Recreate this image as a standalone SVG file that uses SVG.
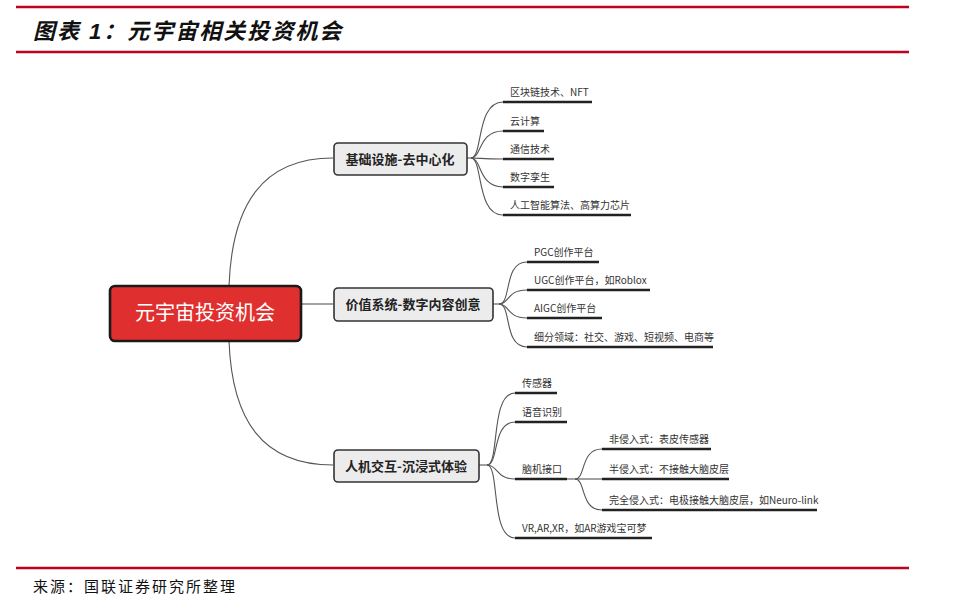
<svg xmlns="http://www.w3.org/2000/svg" width="960" height="609" viewBox="0 0 960 609">
<style>
.rule{stroke:#c0001f;stroke-width:2.5}
.title{font-family:"Liberation Sans","Noto Sans CJK SC",sans-serif;font-size:22px;font-weight:bold;font-style:italic;fill:#111;letter-spacing:2px}
.src{font-family:"Liberation Serif","Noto Sans CJK SC",serif;font-size:15px;fill:#111;letter-spacing:2px}
.conn{fill:none;stroke:#555;stroke-width:1.1}
.ul{stroke:#222;stroke-width:2.6}
.leaf{font-family:"Noto Sans CJK SC",sans-serif;font-size:10px;fill:#333}
.bbox{fill:#ececec;stroke:#333;stroke-width:1.6}
.btxt{font-family:"Noto Sans CJK SC",sans-serif;font-size:13px;font-weight:bold;fill:#222;text-anchor:middle}
.root{fill:#e02f2f;stroke:#1a1a1a;stroke-width:2.6}
.rtxt{font-family:"Noto Sans CJK SC",sans-serif;font-size:20px;fill:#fff;text-anchor:middle}
</style>
<rect width="960" height="609" fill="#fff"/>
<line class="rule" x1="16" y1="7" x2="909" y2="7"/>
<text class="title" x="33" y="39">图表 1：元宇宙相关投资机会</text>
<line class="rule" x1="16" y1="52" x2="909" y2="52"/>
<line class="rule" x1="16" y1="568" x2="909" y2="568"/>
<text class="src" x="33" y="592">来源：国联证券研究所整理</text>

<g id="connectors">
<path class="conn" d="M229 286 C232 205 262 158 333 158"/>
<path class="conn" d="M301 304 L333 304"/>
<path class="conn" d="M229 341 C232 420 262 465 333 465"/>
<!-- branch1 -->
<path class="conn" d="M467 158 L471 158"/>
<path class="conn" d="M471 158 C483 158 476 102 503 102"/>
<path class="conn" d="M471 158 C482 158 478 131 503 131"/>
<path class="conn" d="M471 158 C482 158 480 159 503 159"/>
<path class="conn" d="M471 158 C482 158 478 187 503 187"/>
<path class="conn" d="M471 158 C483 158 476 215 503 215"/>
<!-- branch2 -->
<path class="conn" d="M493 304 L499 304"/>
<path class="conn" d="M499 304 C512 304 503 262 527 262"/>
<path class="conn" d="M499 304 C510 304 506 290 527 290"/>
<path class="conn" d="M499 304 C510 304 506 318 527 318"/>
<path class="conn" d="M499 304 C512 304 503 347 527 347"/>
<!-- branch3 -->
<path class="conn" d="M479 465 L487 465"/>
<path class="conn" d="M487 465 C500 465 490 393 515 393"/>
<path class="conn" d="M487 465 C499 465 492 422 515 422"/>
<path class="conn" d="M487 465 C498 465 496 479 515 479"/>
<path class="conn" d="M487 465 C500 465 490 538 515 538"/>
<!-- brain sub -->
<path class="conn" d="M567 479 L575 479"/>
<path class="conn" d="M575 479 C586 479 580 449 602 449"/>
<path class="conn" d="M575 479 L602 479"/>
<path class="conn" d="M575 479 C586 479 580 510 602 510"/>
</g>

<g id="root">
<rect class="root" x="110" y="286" width="191" height="55" rx="5"/>
<text class="rtxt" x="205" y="320">元宇宙投资机会</text>
</g>

<g id="branch1">
<rect class="bbox" x="334" y="143" width="133" height="32" rx="4"/>
<text class="btxt" x="400" y="164">基础设施-去中心化</text>
</g>
<g id="branch2">
<rect class="bbox" x="334" y="288" width="159" height="33" rx="4"/>
<text class="btxt" x="413" y="309">价值系统-数字内容创意</text>
</g>
<g id="branch3">
<rect class="bbox" x="334" y="450" width="145" height="32" rx="4"/>
<text class="btxt" x="406" y="471">人机交互-沉浸式体验</text>
</g>

<g id="leaf1-1"><line class="ul" x1="503" y1="102" x2="592" y2="102"/><text class="leaf" x="510" y="96">区块链技术、NFT</text></g>
<g id="leaf1-2"><line class="ul" x1="503" y1="131" x2="544" y2="131"/><text class="leaf" x="510" y="125">云计算</text></g>
<g id="leaf1-3"><line class="ul" x1="503" y1="159" x2="554" y2="159"/><text class="leaf" x="510" y="153">通信技术</text></g>
<g id="leaf1-4"><line class="ul" x1="503" y1="187" x2="554" y2="187"/><text class="leaf" x="510" y="181">数字孪生</text></g>
<g id="leaf1-5"><line class="ul" x1="503" y1="215" x2="631" y2="215"/><text class="leaf" x="510" y="209">人工智能算法、高算力芯片</text></g>

<g id="leaf2-1"><line class="ul" x1="527" y1="262" x2="599" y2="262"/><text class="leaf" x="534" y="256">PGC创作平台</text></g>
<g id="leaf2-2"><line class="ul" x1="527" y1="290" x2="650" y2="290"/><text class="leaf" x="534" y="284">UGC创作平台，如Roblox</text></g>
<g id="leaf2-3"><line class="ul" x1="527" y1="318" x2="602" y2="318"/><text class="leaf" x="534" y="312">AIGC创作平台</text></g>
<g id="leaf2-4"><line class="ul" x1="527" y1="347" x2="713" y2="347"/><text class="leaf" x="534" y="341">细分领域：社交、游戏、短视频、电商等</text></g>

<g id="leaf3-1"><line class="ul" x1="515" y1="393" x2="557" y2="393"/><text class="leaf" x="522" y="387">传感器</text></g>
<g id="leaf3-2"><line class="ul" x1="515" y1="422" x2="567" y2="422"/><text class="leaf" x="522" y="416">语音识别</text></g>
<g id="leaf3-3"><line class="ul" x1="515" y1="479" x2="567" y2="479"/><text class="leaf" x="522" y="473">脑机接口</text></g>
<g id="leaf3-4"><line class="ul" x1="515" y1="538" x2="652" y2="538"/><text class="leaf" x="522" y="532">VR,AR,XR，如AR游戏宝可梦</text></g>

<g id="leaf3-3-1"><line class="ul" x1="602" y1="449" x2="711" y2="449"/><text class="leaf" x="609" y="443">非侵入式：表皮传感器</text></g>
<g id="leaf3-3-2"><line class="ul" x1="602" y1="479" x2="729" y2="479"/><text class="leaf" x="609" y="473">半侵入式：不接触大脑皮层</text></g>
<g id="leaf3-3-3"><line class="ul" x1="602" y1="510" x2="817" y2="510"/><text class="leaf" x="609" y="504">完全侵入式：电极接触大脑皮层，如Neuro-link</text></g>
</svg>
